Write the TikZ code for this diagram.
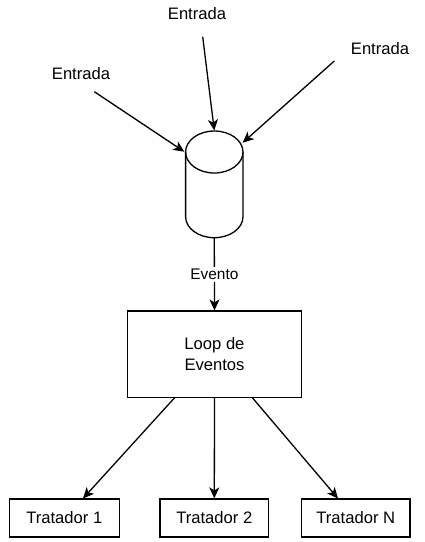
\documentclass[tikz,border=0pt]{standalone}
\usepackage{fontspec}
\setmainfont{Liberation Sans}
\usetikzlibrary{arrows.meta}
\begin{document}
\begin{tikzpicture}[x=1pt,y=-1pt,
  every node/.style={font=\fontsize{16.6}{21}\selectfont, inner sep=0pt},
  box/.style={draw, line width=1.3pt, align=center},
  conn/.style={line width=1.3pt, -{Stealth[length=11pt,width=10pt,inset=3pt]}},
  lbl/.style={font=\fontsize{15.4}{19}\selectfont, fill=white, inner sep=2pt}]
\useasboundingbox (0,0) rectangle (425,542);
% input labels
\node (in1) at (197,14) {Entrada};
\node (in2) at (380,49) {Entrada};
\node (in3) at (81,74) {Entrada};
% cylinder (drawn directly)
\node (db) [minimum width=57.4pt, minimum height=107pt] at (214.3,184.2) {};
\draw[line width=1.3pt] (185.6,152) -- (185.6,216.7)
  arc[start angle=180, end angle=360, x radius=28.7pt, y radius=21pt]
  -- (243,152);
\draw[line width=1.3pt] (214.3,152) ellipse [x radius=28.7pt, y radius=21pt];
\coordinate (dbl) at (184.3,151.7);
\coordinate (dbr) at (242.7,142.7);
\coordinate (s1) at (202.7,36.7);
\coordinate (s2) at (334.3,61);
\coordinate (s3) at (94.3,91.7);
\draw[conn] (s1) -- (db.north);
\draw[conn] (s2) -- (dbr);
\draw[conn] (s3) -- (dbl);
% loop
\node (loop) [box, minimum width=174.4pt, minimum height=86.3pt] at (214.5,354.2) {Loop de\\Eventos};
\draw[conn] (db.south) -- (loop.north) node[lbl, pos=0.5] (ev) {Evento};
% handlers
\node (t1) [box, minimum width=110pt, minimum height=38pt] at (64.3,518) {Tratador 1};
\node (t2) [box, minimum width=108.7pt, minimum height=38pt] at (214.3,518) {Tratador 2};
\node (t3) [box, minimum width=108.3pt, minimum height=38pt] at (355.8,518) {Tratador N};
\coordinate (l1) at (175,397.3);
\coordinate (l3) at (252,397.3);
\draw[conn] (l1) -- (83,498.5);
\draw[conn] (loop.south) -- (t2.north);
\draw[conn] (l3) -- (338,498.5);
\end{tikzpicture}
\end{document}
